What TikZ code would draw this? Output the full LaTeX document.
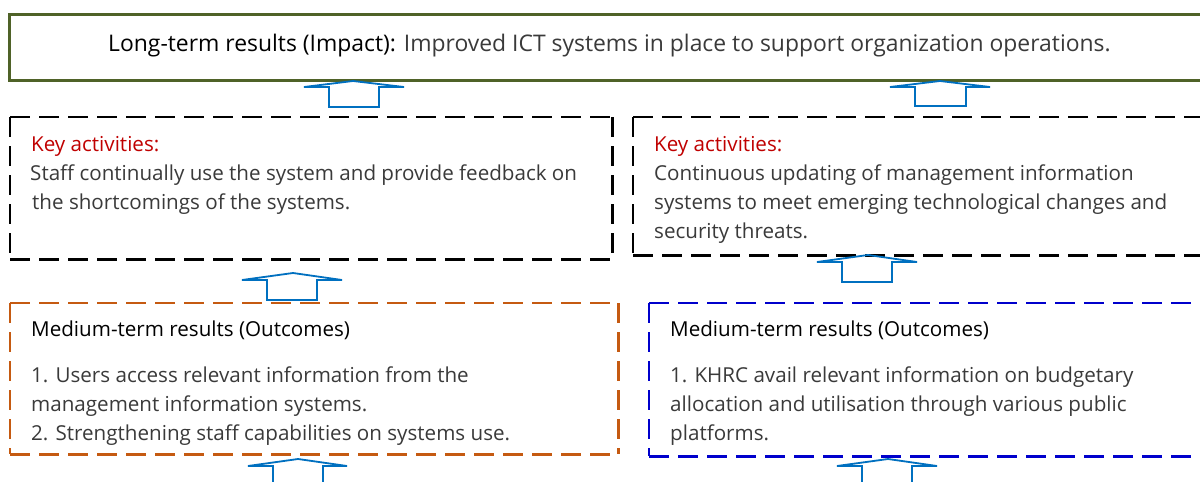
\documentclass[tikz,border=0pt]{standalone}
\usepackage{fontspec}
\setmainfont{Open Sans}
\definecolor{grn}{HTML}{4F6228}
\definecolor{org}{HTML}{C55A11}
\definecolor{blu}{HTML}{0000CC}
\definecolor{arr}{HTML}{0070C0}
\definecolor{krd}{HTML}{C00000}
\definecolor{txt}{HTML}{3A3A3A}
\tikzset{
  boxbase/.style={rectangle, anchor=north west, inner sep=0pt},
  topbox/.style={boxbase, draw=grn, line width=2.6pt},
  keyline/.style={draw=black, line width=2.4pt, dash pattern=on 20pt off 9pt},
  orgline/.style={draw=org, line width=2.2pt, dash pattern=on 20pt off 9pt},
  bluline/.style={draw=blu, line width=2.4pt, dash pattern=on 20pt off 9pt},
  ln/.style={anchor=base west, inner sep=0pt, font=\fontsize{20.6}{24}\selectfont, text=txt},
  topln/.style={ln, font=\fontsize{22.9}{26}\selectfont},
  hd/.style={ln, text=black},
  kh/.style={ln, text=krd},
  uparrow/.style={draw=arr, line width=1.8pt, line join=miter},
}
\newcommand{\myDashedBox}[2]{%
  \draw[#2] (#1.north west) -- (#1.north east);
  \draw[#2] (#1.north west) -- (#1.south west);
  \draw[#2] (#1.north east) -- (#1.south east);
  \draw[#2] (#1.south west) -- (#1.south east);
}
\begin{document}
\begin{tikzpicture}[x=1pt,y=-1pt]
\useasboundingbox (0,0) rectangle (1200,482);
\clip (0,0) rectangle (1200,482);
\fill[white] (0,0) rectangle (1200,482);

% boxes
\node[topbox, minimum width=1230pt, minimum height=66pt] (top) at (8,13) {};
\node[boxbase, minimum width=602pt, minimum height=142pt] (kl) at (10,117) {};
\node[boxbase, minimum width=600pt, minimum height=138pt] (kr) at (633,117) {};
\node[boxbase, minimum width=608pt, minimum height=151pt] (ml) at (10,303) {};
\node[boxbase, minimum width=600pt, minimum height=153pt] (mr) at (649,303) {};
\myDashedBox{kl}{keyline}
\myDashedBox{kr}{keyline}
\myDashedBox{ml}{orgline}
\myDashedBox{mr}{bluline}

% texts
\node[topln] (t1) at (108,51) {\textcolor{black}{Long-term results (Impact):} Improved ICT systems in place to support organization operations.};

\node[kh] (kla) at (31,151) {Key activities:};
\node[ln] (klb) at (30,180) {Staff continually use the system and provide feedback on};
\node[ln] (klc) at (32,209) {the shortcomings of the systems.};

\node[kh] (kra) at (654,151) {Key activities:};
\node[ln] (krb) at (654,180) {Continuous updating of management information};
\node[ln] (krc) at (654,209) {systems to meet emerging technological changes and};
\node[ln] (krd) at (654,238) {security threats.};

\node[hd] (mla) at (31,336) {Medium-term results (Outcomes)};
\node[ln] (mlb) at (31,382) {1. Users access relevant information from the};
\node[ln] (mlc) at (31,411) {management information systems.};
\node[ln] (mld) at (31,440) {2. Strengthening staff capabilities on systems use.};

\node[hd] (mra) at (670,336) {Medium-term results (Outcomes)};
\node[ln] (mrb) at (670,382) {1. KHRC avail relevant information on budgetary};
\node[ln] (mrc) at (670,411) {allocation and utilisation through various public};
\node[ln] (mrd) at (670,440) {platforms.};

% block arrows
\draw[uparrow] (304,87) -- (353,81) -- (404,87) -- (379,87) -- (379,107) -- (329,107) -- (329,87) -- cycle;
\draw[uparrow] (890,87) -- (940,81) -- (990,87) -- (966,87) -- (966,106) -- (915,106) -- (915,87) -- cycle;
\draw[uparrow] (242,280) -- (293,273) -- (342,280) -- (317,280) -- (317,300) -- (267,300) -- (267,280) -- cycle;
\draw[uparrow] (817,262) -- (868,255) -- (917,262) -- (892,262) -- (892,282) -- (842,282) -- (842,262) -- cycle;
\draw[uparrow] (273,495) -- (273,466) -- (248,466) -- (298,459) -- (347,466) -- (323,466) -- (323,495);
\draw[uparrow] (862,495) -- (862,466) -- (837,466) -- (888,459) -- (937,466) -- (912,466) -- (912,495);
\end{tikzpicture}
\end{document}
